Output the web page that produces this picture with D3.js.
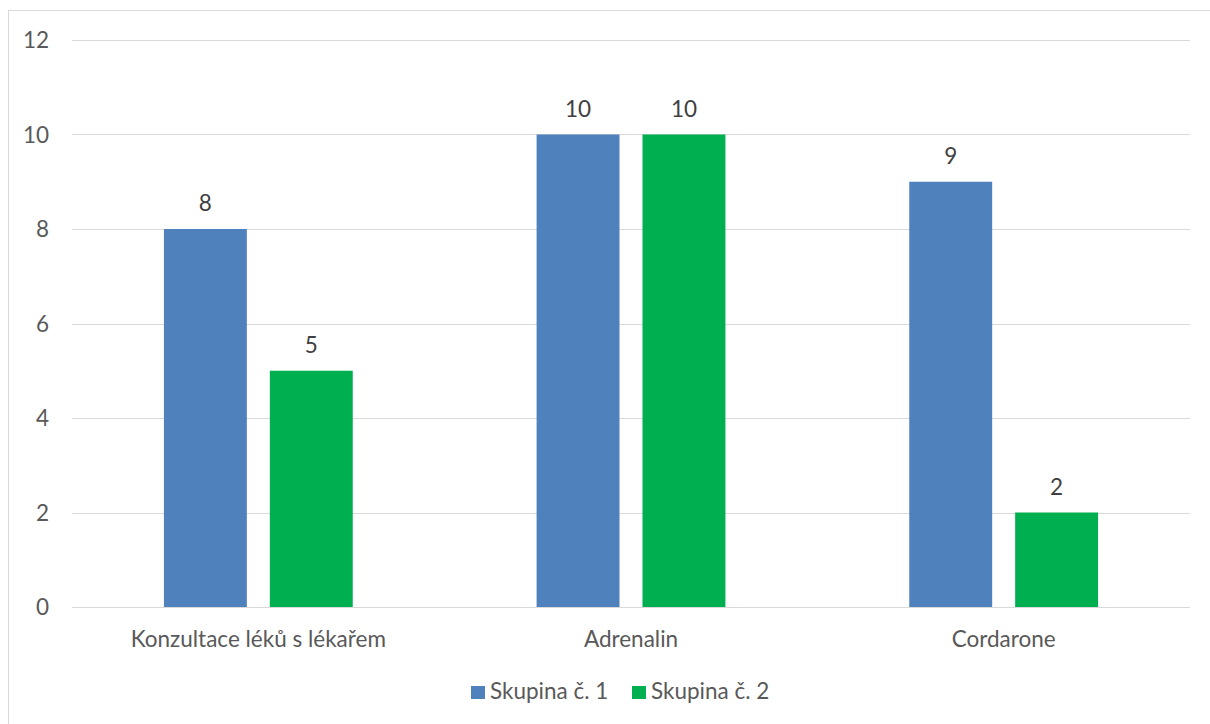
<!DOCTYPE html>
<html>
<head>
<meta charset="utf-8">
<script src="https://cdn.jsdelivr.net/npm/d3@7"></script>
<style>
  html, body { margin: 0; padding: 0; background: #fff; }
  svg { display: block; }
  text { font-family: Lato, "Open Sans", "Liberation Sans", sans-serif; }
</style>
</head>
<body>
<svg id="chart" width="1210" height="724"></svg>
<script>
// Chart data
const categories = ["Konzultace léků s lékařem", "Adrenalin", "Cordarone"];
const seriesNames = ["Skupina č. 1", "Skupina č. 2"];
const group1 = [8, 10, 9];
const group2 = [5, 10, 2];
const yTicks = [0, 2, 4, 6, 8, 10, 12];
const colors = ["#4F81BD", "#00B050"];

const FONT = 22.5;
const svg = d3.select("#chart");

// Outer chart frame
svg.append("rect")
  .attr("x", 8.5).attr("y", 10.5)
  .attr("width", 1210).attr("height", 730)
  .attr("fill", "#fff").attr("stroke", "#d9d9d9").attr("stroke-width", 1);

const plot = { left: 72, right: 1190, top: 40, bottom: 607 };

const y = d3.scaleLinear().domain([0, 12]).range([plot.bottom, plot.top]);
const x0 = d3.scaleBand().domain(categories).range([plot.left, plot.right]).padding(0);
const x1 = d3.scaleBand().domain(seriesNames).range([0, x0.bandwidth()])
  .paddingInner(0.217).paddingOuter(0.868);

// Gridlines
svg.append("g")
  .selectAll("line").data(yTicks).join("line")
  .attr("x1", plot.left).attr("x2", plot.right)
  .attr("y1", d => Math.round(y(d)) + 0.5).attr("y2", d => Math.round(y(d)) + 0.5)
  .attr("stroke", "#d9d9d9").attr("stroke-width", 1);

// Y tick labels
svg.append("g")
  .selectAll("text").data(yTicks).join("text")
  .attr("x", 49).attr("y", d => y(d) + 8)
  .attr("text-anchor", "end")
  .attr("font-size", FONT).attr("fill", "#595959")
  .text(d => d);

// Bars
const rows = categories.map((c, i) => ({ cat: c, values: [group1[i], group2[i]] }));
const groups = svg.append("g").selectAll("g").data(rows).join("g")
  .attr("transform", d => `translate(${x0(d.cat)},0)`);

groups.selectAll("rect")
  .data(d => d.values.map((v, j) => ({ name: seriesNames[j], v, j })))
  .join("rect")
  .attr("x", d => x1(d.name))
  .attr("width", x1.bandwidth())
  .attr("y", d => y(d.v))
  .attr("height", d => y(0) - y(d.v))
  .attr("fill", d => colors[d.j]);

// Value labels
groups.selectAll("text.val")
  .data(d => d.values.map((v, j) => ({ name: seriesNames[j], v, j })))
  .join("text")
  .attr("class", "val")
  .attr("x", d => x1(d.name) + x1.bandwidth() / 2)
  .attr("y", d => y(d.v) - 18)
  .attr("text-anchor", "middle")
  .attr("font-size", FONT).attr("fill", "#404040")
  .text(d => d.v);

// Category labels
svg.append("g").selectAll("text").data(categories).join("text")
  .attr("x", d => x0(d) + x0.bandwidth() / 2)
  .attr("y", 647)
  .attr("text-anchor", "middle")
  .attr("font-size", FONT).attr("fill", "#595959")
  .text(d => d);

// Legend
const legendX = [471, 632];
const legend = svg.append("g").selectAll("g").data(seriesNames).join("g")
  .attr("transform", (d, i) => `translate(${legendX[i]},686)`);
legend.append("rect").attr("width", 14).attr("height", 13).attr("fill", (d, i) => colors[i]);
legend.append("text")
  .attr("x", 19).attr("y", 13)
  .attr("font-size", FONT).attr("fill", "#595959")
  .text(d => d);
</script>
</body>
</html>
